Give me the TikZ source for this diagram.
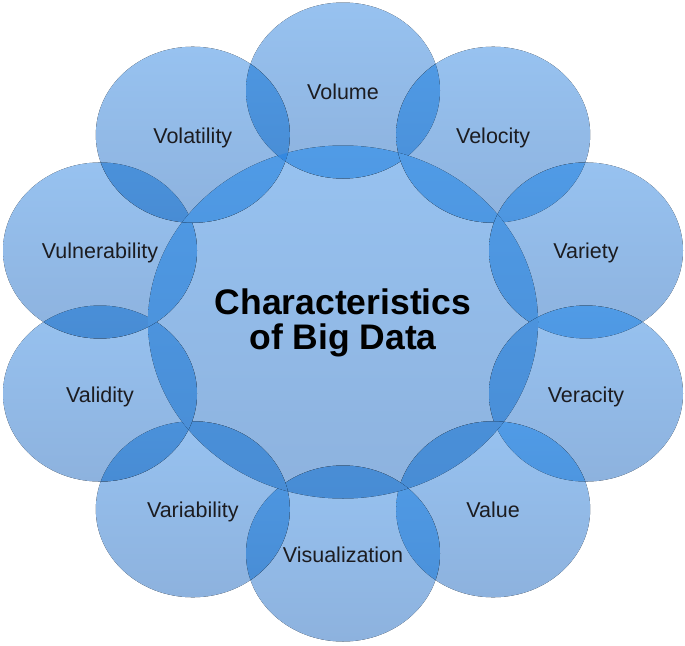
\documentclass[tikz,border=0pt]{standalone}
\usepackage{fontspec}
\setmainfont{Liberation Sans}
\definecolor{lt}{RGB}{151,194,240}
\definecolor{lb}{RGB}{141,178,222}
\definecolor{dt}{RGB}{80,155,230}
\definecolor{db}{RGB}{72,140,212}
\definecolor{tt}{RGB}{52,136,224}
\definecolor{txt}{RGB}{28,28,32}
\tikzset{
  lightfill/.style={top color=lt,bottom color=lb},
  darkfill/.style={top color=dt,bottom color=db},
  triplefill/.style={fill=tt},
  lab/.style={anchor=base,inner sep=0pt,text=txt,font=\fontsize{21.5}{24}\selectfont},
  titlelab/.style={align=center,inner sep=0pt,text=black,font=\fontsize{35.5}{35}\selectfont\bfseries}
}
\begin{document}
\begin{tikzpicture}[x=1pt,y=-1pt]
\useasboundingbox (0,0) rectangle (685,645);
\coordinate (c) at (343,322);
\foreach \i in {0,...,9}{
  \pgfmathsetmacro\a{90-36*\i}
  \coordinate (o\i) at ({343+255.5*cos(\a)},{322-231.5*sin(\a)});
}
% base discs
\fill[lightfill] (c) ellipse [x radius=195,y radius=176.5];
\foreach \i in {0,...,9}{
  \fill[lightfill] (o\i) ellipse [x radius=97,y radius=88];
}
% overlaps
\foreach \i in {0,...,9}{
  \pgfmathtruncatemacro\j{mod(\i+1,10)}
  \begin{scope}
    \clip (o\i) ellipse [x radius=97,y radius=88];
    \fill[darkfill] (c) ellipse [x radius=195,y radius=176.5];
    \fill[darkfill] (o\j) ellipse [x radius=97,y radius=88];
    \clip (o\j) ellipse [x radius=97,y radius=88];
    \fill[triplefill] (c) ellipse [x radius=195,y radius=176.5];
  \end{scope}
}
% labels
\foreach \i/\t in {0/Volume,1/Velocity,2/Variety,3/Veracity,4/Value,5/Visualization,6/Variability,7/Validity,8/Vulnerability,9/Volatility}{
  \node[lab] (l\i) at ([yshift=-8.5pt]o\i) {\t};
}
\node[titlelab] (title) at (343,323) {Characteristics\\of Big Data};
\end{tikzpicture}
\end{document}
